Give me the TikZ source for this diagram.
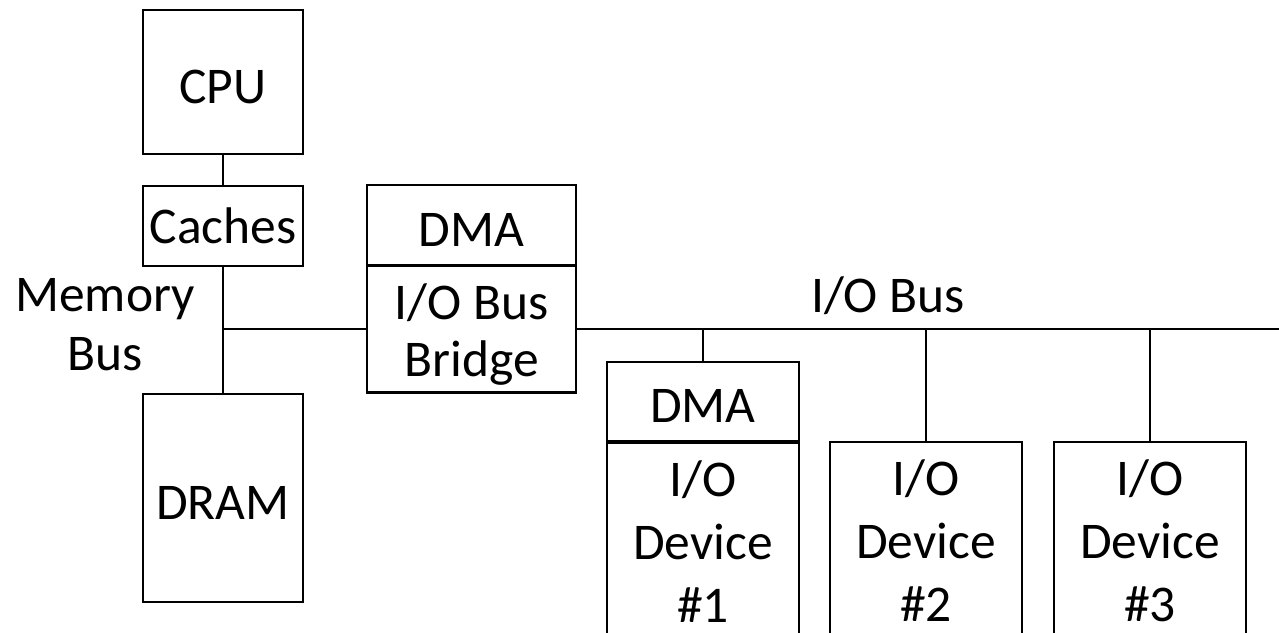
\documentclass[tikz,border=0pt]{standalone}
\usepackage{fontspec}
\setmainfont{Carlito}

\tikzset{
  wire/.style={line width=2.2pt},
  blk/.style={draw,line width=2.2pt,inner sep=0pt,align=center,
    font=\fontsize{51.5}{60}\selectfont},
  one/.style={text height=42pt,text depth=0pt},
  lbl/.style={inner sep=0pt,align=center,font=\fontsize{51.5}{59}\selectfont}
}

\begin{document}
\begin{tikzpicture}[x=1pt,y=-1pt]
\useasboundingbox (0,0) rectangle (1279,632);
\clip (0,0) rectangle (1279,632);
% memory side
\node[blk,one,minimum width=160,minimum height=144] (cpu) at (223,82) {CPU};
\node[blk,one,text height=34pt,minimum width=160,minimum height=80] (cache) at (223,226) {Caches};
\node[blk,one,minimum width=160,minimum height=208] (dram) at (223,498) {DRAM};
\node[lbl] (membuslbl) at (105,325) {Memory\\Bus};
% bridge
\node[blk,one,minimum width=209,minimum height=81] (bdma) at (471.5,225.5) {DMA};
\node[blk,minimum width=209,minimum height=127,
  font=\fontsize{51.5}{57}\selectfont] (bridge) at (471.5,329) {\rule{0pt}{46pt}I/O Bus\\Bridge};
\node[lbl,anchor=base] (iobuslbl) at (888,312) {I/O Bus};
% devices
\node[blk,one,minimum width=192,minimum height=79] (d1dma) at (703,401.5) {DMA};
\node[blk,minimum width=192,minimum height=197,anchor=north,
  font=\fontsize{51.5}{63}\selectfont] (dev1) at (d1dma.south) {I/O\\Device\\\#1};
\node[blk,minimum width=192,minimum height=197,anchor=north,
  font=\fontsize{51.5}{63}\selectfont] (dev2) at (926,441) {I/O\\Device\\\#2};
\node[blk,minimum width=192,minimum height=197,anchor=north,
  font=\fontsize{51.5}{63}\selectfont] (dev3) at (1150,441) {I/O\\Device\\\#3};
% buses
\coordinate (membus) at (223,329);
\coordinate (busend) at (1290,329);
\draw[wire] (cpu) -- (cache);
\draw[wire] (cache) -- (dram);
\draw[wire] (membus) -- (bridge.west);
\draw[wire] (bridge.east) -- (busend);
\foreach \d in {d1dma,dev2,dev3}
  \draw[wire] (\d.north) -- (\d.north |- busend);
\end{tikzpicture}
\end{document}
